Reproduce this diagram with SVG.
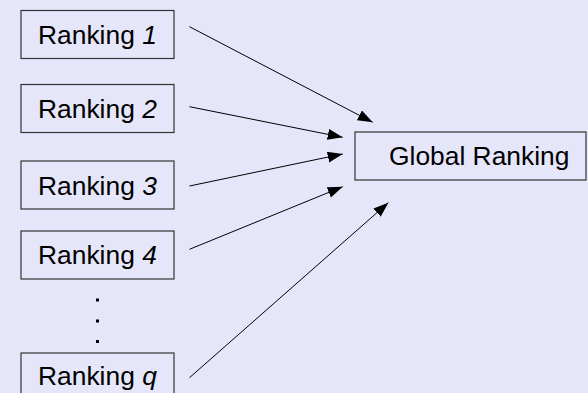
<svg xmlns="http://www.w3.org/2000/svg" width="588" height="393" viewBox="0 0 588 393">
<style>
.box{fill:#e6e6fa;stroke:#333;stroke-width:1.2}
.t{font-family:"Liberation Sans",Arial,sans-serif;font-size:26.4px;fill:#000}
.c{stroke:#000;stroke-width:1;fill:none}
</style>
<defs>
<marker id="ah" markerWidth="16" markerHeight="12" refX="15" refY="5.5" orient="auto" markerUnits="userSpaceOnUse">
<path d="M0,0 L15,5.5 L0,11 Z" fill="#000"/>
</marker>
</defs>
<rect width="588" height="393" fill="#e6e6fa"/>
<g id="r1"><rect class="box" x="21" y="10.5" width="153" height="48"/><text class="t" x="38" y="44">Ranking <tspan font-style="italic">1</tspan></text></g>
<g id="r2"><rect class="box" x="21" y="84.5" width="153" height="48"/><text class="t" x="38" y="118">Ranking <tspan font-style="italic">2</tspan></text></g>
<g id="r3"><rect class="box" x="21" y="161" width="153" height="48"/><text class="t" x="38" y="194.5">Ranking <tspan font-style="italic">3</tspan></text></g>
<g id="r4"><rect class="box" x="21" y="231" width="153" height="48"/><text class="t" x="38" y="263.5">Ranking <tspan font-style="italic">4</tspan></text></g>
<g id="dots" fill="#000"><rect x="96" y="298.5" width="3" height="3"/><rect x="96" y="319.5" width="3" height="3"/><rect x="96" y="340" width="3" height="3"/></g>
<g id="rq"><rect class="box" x="21" y="353" width="153" height="48"/><text class="t" x="38" y="384.5">Ranking <tspan font-style="italic">q</tspan></text></g>
<g id="global"><rect class="box" x="355" y="132" width="231" height="48"/><text class="t" x="389" y="165">Global Ranking</text></g>
<g id="connectors" class="c">
<line x1="189.5" y1="26.7" x2="372.7" y2="122.3" marker-end="url(#ah)"/>
<line x1="189.5" y1="106.7" x2="342.7" y2="137.3" marker-end="url(#ah)"/>
<line x1="189.5" y1="186" x2="342.7" y2="154" marker-end="url(#ah)"/>
<line x1="189.5" y1="249.3" x2="342.7" y2="186.7" marker-end="url(#ah)"/>
<line x1="189.5" y1="377.7" x2="388.3" y2="202.7" marker-end="url(#ah)"/>
</g>
</svg>
